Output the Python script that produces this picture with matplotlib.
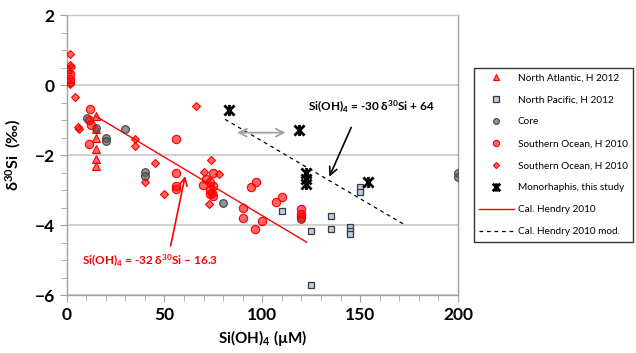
import matplotlib
matplotlib.use('Agg')
import matplotlib.pyplot as plt
from matplotlib.path import Path
from matplotlib import font_manager

plt.rcParams['font.family'] = ['Lato', 'DejaVu Sans']
plt.rcParams['mathtext.fontset'] = 'custom'
plt.rcParams['mathtext.bf'] = 'Lato:bold'
plt.rcParams['mathtext.rm'] = 'Lato:bold'
plt.rcParams['mathtext.default'] = 'bf'

# North Atlantic, H 2012 (triangles)
na_x = [0.8, 15, 15, 15, 15, 15, 15]
na_y = [0.46, -0.88, -1.26, -1.50, -1.84, -2.12, -2.30]

# North Pacific, H 2012 (squares)
np_x = [110, 124.7, 124.7, 135, 135, 145, 145, 145, 150, 150]
np_y = [-3.59, -4.17, -5.70, -3.73, -4.10, -4.05, -4.17, -4.26, -2.90, -3.06]

# Core (grey circles)
core_x = [10.3, 15, 20, 20, 30, 40, 40, 80, 120, 200, 200]
core_y = [-0.95, -1.22, -1.52, -1.60, -1.27, -2.48, -2.59, -3.38, -3.84, -2.52, -2.63]

# Southern Ocean, H 2010 (circles)
soc_x = [1.8, 2.0, 2.0, 12, 11.5, 12.4, 11.7, 56, 56, 56, 56,
         75, 71.3, 73.3, 69.9, 75, 73.5, 74.5, 73.5, 75,
         90, 90, 94.3, 96.6, 96.2, 100, 107, 110, 120, 120, 120]
soc_y = [0.31, 0.16, 0.10, -0.69, -1.00, -1.14, -1.67, -1.53, -2.52, -2.88, -2.96,
         -2.52, -2.69, -2.76, -2.86, -2.89, -3.00, -3.08, -3.12, -3.17,
         -3.50, -3.81, -2.90, -2.78, -4.10, -3.89, -3.35, -3.19, -3.55, -3.67, -3.76]

# Southern Ocean, H 2010 (diamonds)
sod_x = [2.0, 1.9, 2.4, 2.0, 4.2, 6.0, 6.5, 35, 35, 45, 40, 50, 66, 73.8, 70, 78, 72.8]
sod_y = [0.89, 0.57, 0.52, 0.02, -0.34, -1.20, -1.27, -1.55, -1.73, -2.22, -2.78, -3.11,
         -0.59, -2.14, -2.48, -2.53, -3.41]

# Monorhaphis, this study
mono_x = [83, 119, 122.3, 122.3, 122.3, 153.9]
mono_y = [-0.71, -1.29, -2.52, -2.69, -2.84, -2.78]

# calibration lines (end points)
cal_x = [15, 122.7]
cal_y = [-0.89, -4.49]
cal_mod_x = [81, 172.4]
cal_mod_y = [-0.98, -3.98]

# x with a vertical bar, like the spreadsheet "star" marker
star = Path([(-1, -1), (1, 1), (-1, 1), (1, -1), (0, -1.1), (0, 1.1)],
            [Path.MOVETO, Path.LINETO, Path.MOVETO, Path.LINETO, Path.MOVETO, Path.LINETO])

# narrow font for the legend if there is one, it is cut at the right edge otherwise
installed = {f.name for f in font_manager.fontManager.ttflist}
if 'Liberation Sans Narrow' in installed:
    leg_font = dict(family=['Liberation Sans Narrow', 'DejaVu Sans'], size=8.5)
else:
    leg_font = dict(family=['Lato', 'DejaVu Sans'], size=7.2)

fig = plt.figure(figsize=(6.36, 3.53), dpi=100)
ax = fig.add_axes([0.1046, 0.164, 0.6155, 0.7935])

red_fill = (1, 0, 0, 0.6)
ax.plot(na_x, na_y, ls='none', marker='^', ms=5.5, mfc=red_fill, mec='red', mew=0.8,
        label='North Atlantic, H 2012', zorder=4)
ax.plot(np_x, np_y, ls='none', marker='s', ms=5, mfc='#b9cde5', mec='#3a3a3a', mew=0.9,
        label='North Pacific, H 2012', zorder=4)
ax.plot(core_x, core_y, ls='none', marker='o', ms=5.5, mfc=(0.35, 0.35, 0.35, 0.65),
        mec='#404040', mew=0.8, label='Core', zorder=4)
ax.plot(soc_x, soc_y, ls='none', marker='o', ms=6, mfc=red_fill, mec='red', mew=0.8,
        label='Southern Ocean, H 2010', zorder=4)
ax.plot(sod_x, sod_y, ls='none', marker='D', ms=4.2, mfc=red_fill, mec='red', mew=0.8,
        label='Southern Ocean, H 2010', zorder=4)
ax.plot(mono_x, mono_y, ls='none', marker=star, ms=8, mec='black', mew=2,
        label='Monorhaphis, this study', zorder=5)
ax.plot(cal_x, cal_y, color='red', lw=1, label='Cal. Hendry 2010', zorder=3)
ax.plot(cal_mod_x, cal_mod_y, color='black', lw=0.9, ls=(0, (3, 3)),
        label='Cal. Hendry 2010 mod.', zorder=3)

# arrows and equations
ax.annotate('', xy=(113.3, -1.36), xytext=(85.7, -1.36),
            arrowprops=dict(arrowstyle='<->', color='#a0a0a0', lw=1.3,
                            mutation_scale=14))
ax.annotate('', xy=(133.7, -2.69), xytext=(146, -1.14),
            arrowprops=dict(arrowstyle='->', color='black', lw=1.2, mutation_scale=14))
ax.annotate('', xy=(60.9, -2.52), xytext=(52.9, -4.67),
            arrowprops=dict(arrowstyle='->', color='red', lw=1.2, mutation_scale=14))
ax.text(155.6, -0.62, r'Si(OH)$_4$ = -30 δ$^{30}$Si + 64', ha='center', va='center',
        fontsize=8.5, fontweight='bold', color='black')
ax.text(42.9, -5.03, r'Si(OH)$_4$ = -32 δ$^{30}$Si – 16.3', ha='center', va='center',
        fontsize=8.5, fontweight='bold', color='red')

ax.set_xlim(0, 200)
ax.set_ylim(-6, 2)
ax.set_xticks([0, 50, 100, 150, 200])
ax.set_xticks(range(0, 201, 10), minor=True)
ax.set_yticks([-6, -4, -2, 0, 2])
ax.set_yticks([v / 2 for v in range(-12, 5)], minor=True)
ax.tick_params(axis='both', which='both', direction='out', color='#a0a0a0')
ax.tick_params(axis='both', which='major', length=5, labelsize=12.5)
ax.tick_params(axis='both', which='minor', length=4)
for lab in ax.get_xticklabels() + ax.get_yticklabels():
    lab.set_fontweight('bold')
ax.yaxis.grid(True, color='#c8c8c8', lw=1.2)
ax.set_axisbelow(True)
for side in ['left', 'bottom', 'right', 'top']:
    ax.spines[side].set_color('#a0a0a0')
    ax.spines[side].set_linewidth(1.0)
ax.spines['top'].set_color('#c8c8c8')

ax.set_xlabel(r'Si(OH)$_4$ (µM)', fontsize=11, fontweight='bold')
ax.set_ylabel(r'δ$^{30}$Si  (‰)', fontsize=11.5, fontweight='bold', labelpad=8)

leg = fig.legend(loc='upper left', bbox_to_anchor=(474 / 636, 1 - 68 / 353),
                 prop=leg_font, frameon=True, fancybox=False, edgecolor='black',
                 markerscale=0.75, handlelength=3.4, handletextpad=0.4,
                 labelspacing=1.3, borderaxespad=0, borderpad=0.55)
leg.get_frame().set_linewidth(1.0)

plt.savefig('out.png', dpi=100)
